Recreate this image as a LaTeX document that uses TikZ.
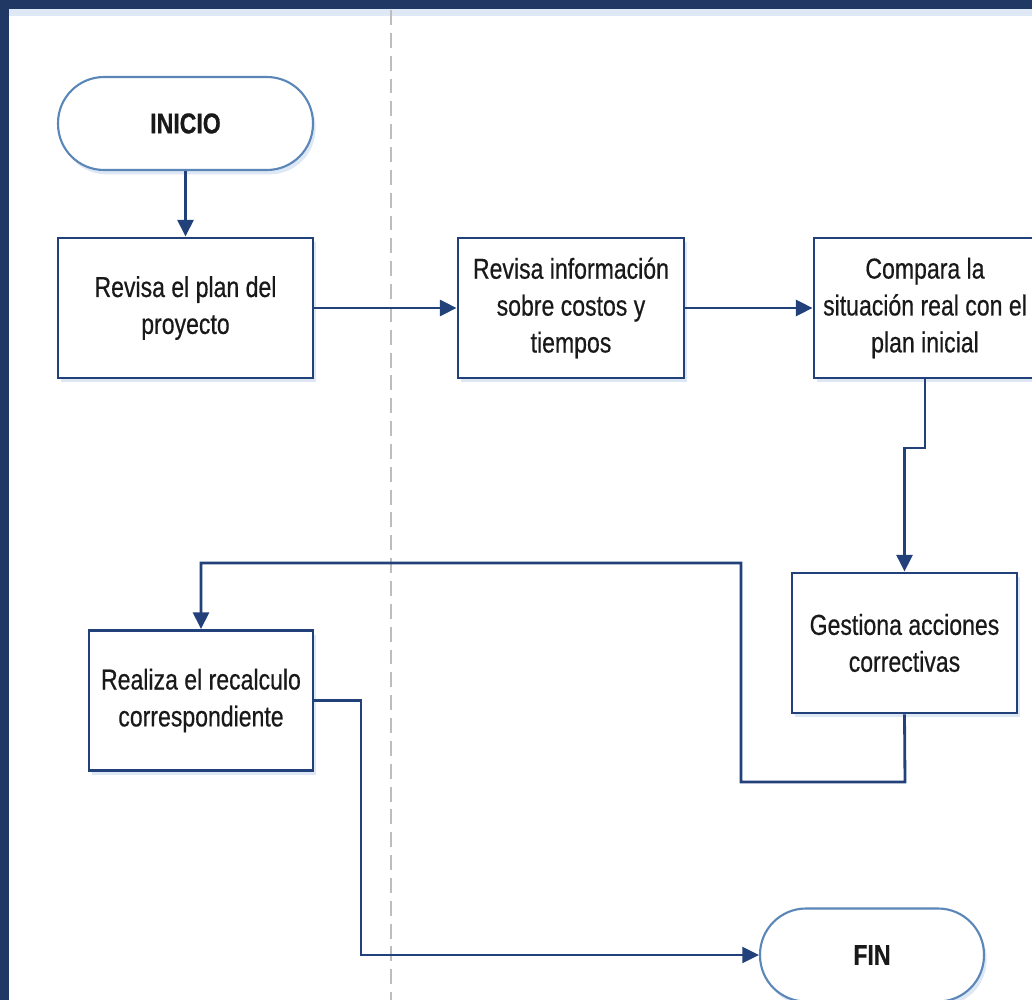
\documentclass[tikz,border=0pt]{standalone}
\usepackage{fontspec}
\setmainfont{Liberation Sans}[FakeStretch=0.8,FakeBold=0.5]
\usetikzlibrary{arrows.meta,shadows}
\definecolor{navy}{HTML}{1F3864}
\definecolor{boxline}{HTML}{22407A}
\definecolor{termline}{HTML}{5A86B8}
\definecolor{lanegray}{HTML}{BDBDBD}
\definecolor{glow}{HTML}{C9D8EE}
\begin{document}
\begin{tikzpicture}[x=0.02cm,y=-0.02cm,
  every node/.style={font=\fontsize{16.4pt}{21pt}\selectfont, text=black!90},
  soft/.style={drop shadow={shadow xshift=1.5pt,shadow yshift=-2.5pt,fill=glow,opacity=0.6}},
  stepbox/.style={draw=boxline, line width=1.6pt, fill=white, soft,
    minimum width=#1, minimum height=2.8cm, inner sep=0pt, align=center},
  stepbox/.default=5.1cm,
  terminal/.style={draw=termline, line width=1.2pt, fill=white, soft,
    rounded corners=0.92cm, minimum height=1.86cm, inner sep=0pt,
    font=\fontsize{16.4pt}{21pt}\selectfont\bfseries},
  flow/.style={draw=boxline, line width=1.6pt,
    -{Triangle[length=9.5pt,width=9pt]}}]
\useasboundingbox (0,0) rectangle (1032,1000);
\clip (0,0) rectangle (1032,1000);
\fill[white] (0,0) rectangle (1032,1000);

% pool frame: top and left bars with a faint glow
\fill[glow!60] (9,9) rectangle (1032,16);
\fill[navy] (0,0) rectangle (1032,9);
\fill[navy] (0,0) rectangle (9,1000);

% lane separator
\draw[lanegray, line width=1.1pt, dash pattern=on 8.5pt off 4.5pt] (391,10) -- (391,1000);

% nodes
\node[terminal, minimum width=5.1cm] (ini) at (185.5,123.5) {INICIO};
\node[stepbox] (b1) at (185.5,308) {Revisa el plan del\\proyecto};
\node[stepbox=4.52cm] (b2) at (571,308) {Revisa información\\sobre costos y\\tiempos};
\node[stepbox=4.44cm] (b3) at (925,308) {Compara la\\situación real con el\\plan inicial};
\node[stepbox=4.5cm] (b4) at (904.5,643) {Gestiona acciones\\correctivas};
\node[stepbox=4.48cm] (b5) at (201,700.5) {Realiza el recalculo\\correspondiente};
\node[terminal, minimum width=4.48cm] (fin) at (872,955) {FIN};

% bends of the return paths
\coordinate (k1) at (925,448);
\coordinate (k2) at (905,782);
\coordinate (k3) at (741,563);
\coordinate (k4) at (361,700.5);

% connectors
\draw[flow] (ini) -- (b1);
\draw[flow] (b1) -- (b2);
\draw[flow] (b2) -- (b3);
\draw[flow] (b3.south) -- (k1) -| (b4.north);
\draw[flow] (b4.south) -- (k2) -| (k3) -| (b5.north);
\draw[flow] (b5.east) -- (k4) |- (fin.west);
\end{tikzpicture}
\end{document}
